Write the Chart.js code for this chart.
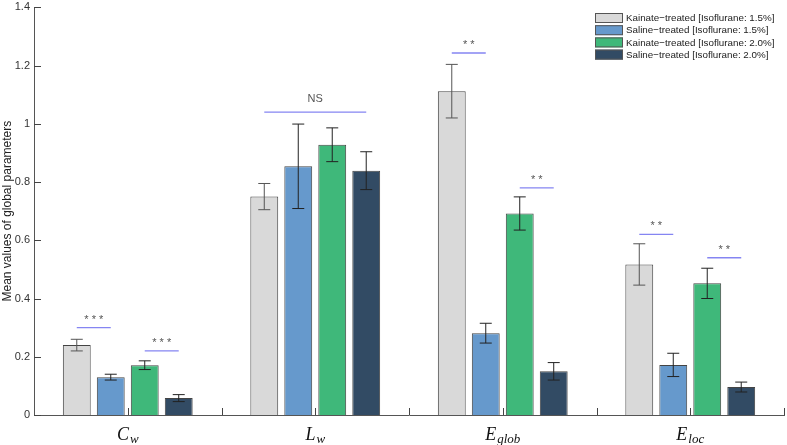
<!DOCTYPE html>
<html>
<head>
<meta charset="utf-8">
<script src="https://cdn.jsdelivr.net/npm/chart.js@4.4.1/dist/chart.umd.min.js"></script>
<style>
  html, body { margin: 0; padding: 0; background: #fff; }
  #wrap { width: 787px; height: 445px; }
</style>
</head>
<body>
<div id="wrap"><canvas id="myChart"></canvas></div>
<script>
// categories (main letter + subscript)
const catMain = ['C', 'L', 'E', 'E'];
const catSub = ['w', 'w', 'glob', 'loc'];
const categories = ['Cw', 'Lw', 'Eglob', 'Eloc'];

// series labels
const seriesLabels = [
  'Kainate\u2212treated [Isoflurane: 1.5%]',
  'Saline\u2212treated [Isoflurane: 1.5%]',
  'Kainate\u2212treated [Isoflurane: 2.0%]',
  'Saline\u2212treated [Isoflurane: 2.0%]'
];

// mean values
const kainate15 = [0.240, 0.750, 1.112, 0.517];
const saline15 = [0.130, 0.854, 0.281, 0.172];
const kainate20 = [0.171, 0.928, 0.692, 0.452];
const saline20 = [0.058, 0.839, 0.150, 0.096];

// error (half length)
const kainate15Err = [0.020, 0.045, 0.092, 0.071];
const saline15Err = [0.010, 0.145, 0.034, 0.040];
const kainate20Err = [0.015, 0.058, 0.057, 0.052];
const saline20Err = [0.012, 0.065, 0.030, 0.017];

// significance: category, bar from, bar to, height, label
const sigCat = [0, 0, 1, 2, 2, 3, 3];
const sigFrom = [0, 2, 0, 0, 2, 0, 2];
const sigTo = [1, 3, 3, 1, 3, 1, 3];
const sigY = [0.30, 0.22, 1.04, 1.243, 0.78, 0.62, 0.54];
const sigText = ['* * *', '* * *', 'NS', '* *', '* *', '* *', '* *'];

const yTicks = [0, 0.2, 0.4, 0.6, 0.8, 1, 1.2, 1.4];

const colors = ['#d9d9d9', '#6699cc', '#3fb87a', '#324b64'];
const seriesData = [kainate15, saline15, kainate20, saline20];
const seriesErr = [kainate15Err, saline15Err, kainate20Err, saline20Err];

const FONT = '"Liberation Sans", Arial, sans-serif';
const SERIF = '"Liberation Serif", "DejaVu Serif", serif';

const extras = {
  id: 'extras',
  afterDatasetsDraw(chart) {
    const ctx = chart.ctx;
    const x = chart.scales.x, y = chart.scales.y;
    const area = chart.chartArea;
    ctx.save();

    // error bars
    seriesErr.forEach((errs, di) => {
      const meta = chart.getDatasetMeta(di);
      meta.data.forEach((bar, i) => {
        const v = seriesData[di][i];
        const top = y.getPixelForValue(v + errs[i]);
        const bot = y.getPixelForValue(v - errs[i]);
        ctx.strokeStyle = di === 0 ? '#555' : '#222';
        ctx.lineWidth = 1;
        ctx.beginPath();
        ctx.moveTo(bar.x, top); ctx.lineTo(bar.x, bot);
        ctx.moveTo(bar.x - 6, top); ctx.lineTo(bar.x + 6, top);
        ctx.moveTo(bar.x - 6, bot); ctx.lineTo(bar.x + 6, bot);
        ctx.stroke();
      });
    });

    // significance lines
    sigCat.forEach((c, k) => {
      const x1 = chart.getDatasetMeta(sigFrom[k]).data[c].x;
      const x2 = chart.getDatasetMeta(sigTo[k]).data[c].x;
      const py = y.getPixelForValue(sigY[k]);
      ctx.strokeStyle = '#8585f2';
      ctx.lineWidth = 1.3;
      ctx.beginPath();
      ctx.moveTo(x1, py); ctx.lineTo(x2, py);
      ctx.stroke();
      ctx.fillStyle = '#555';
      ctx.font = '11px ' + FONT;
      ctx.textAlign = 'center';
      ctx.textBaseline = 'alphabetic';
      ctx.fillText(sigText[k], (x1 + x2) / 2, py - (sigText[k] === 'NS' ? 10 : 5));
    });

    // inward tick marks
    ctx.strokeStyle = '#444';
    ctx.lineWidth = 1;
    ctx.beginPath();
    yTicks.forEach(t => {
      const py = Math.round(y.getPixelForValue(t)) + 0.5;
      ctx.moveTo(area.left, py); ctx.lineTo(area.left + 7, py);
    });
    const n = categories.length;
    const step = (area.right - area.left) / n;
    for (let i = 1; i <= 2 * n; i++) {
      const px = Math.round(area.left + i * step / 2) + 0.5;
      ctx.moveTo(px, area.bottom); ctx.lineTo(px, area.bottom - 7);
    }
    ctx.stroke();

    // x category labels (italic with subscript)
    ctx.fillStyle = '#111';
    ctx.textBaseline = 'alphabetic';
    categories.forEach((c, i) => {
      const cx = x.getPixelForValue(i);
      ctx.font = 'italic 18px ' + SERIF;
      const w1 = ctx.measureText(catMain[i]).width;
      ctx.font = 'italic 13px ' + SERIF;
      const w2 = ctx.measureText(catSub[i]).width;
      const sx = cx - (w1 + w2 + 1) / 2;
      ctx.textAlign = 'left';
      ctx.font = 'italic 18px ' + SERIF;
      ctx.fillText(catMain[i], sx, 440);
      ctx.font = 'italic 13px ' + SERIF;
      ctx.fillText(catSub[i], sx + w1 + 1, 443);
    });

    // legend
    ctx.font = '9.8px ' + FONT;
    ctx.textAlign = 'left';
    ctx.textBaseline = 'middle';
    seriesLabels.forEach((lab, i) => {
      const cy = 18 + i * 12.2;
      ctx.fillStyle = colors[i];
      ctx.fillRect(595, cy - 5, 28, 10);
      ctx.strokeStyle = '#555';
      ctx.strokeRect(595.5, cy - 4.5, 27, 9);
      ctx.fillStyle = '#222';
      ctx.fillText(lab, 626, cy + 0.5);
    });

    ctx.restore();
  }
};

const ctx = document.getElementById('myChart').getContext('2d');
const myChart = new Chart(ctx, {
  type: 'bar',
  data: {
    labels: categories,
    datasets: seriesLabels.map((lab, i) => ({
      label: lab,
      data: seriesData[i],
      backgroundColor: colors[i],
      borderColor: '#444',
      borderWidth: 1,
      categoryPercentage: 0.725,
      barPercentage: 0.82
    }))
  },
  options: {
    responsive: true,
    maintainAspectRatio: false,
    animation: false,
    layout: { padding: { top: 6, right: 3, left: 0, bottom: 0 } },
    plugins: { legend: { display: false }, tooltip: { enabled: false } },
    scales: {
      x: {
        grid: { display: false },
        border: { display: true, color: '#555' },
        ticks: { display: false },
        afterFit: s => { s.height = 30; }
      },
      y: {
        min: 0,
        max: 1.4,
        afterBuildTicks: s => { s.ticks = yTicks.map(v => ({ value: v })); },
        grid: { display: false, drawTicks: false },
        border: { display: true, color: '#555' },
        ticks: {
          padding: 4,
          color: '#333',
          font: { family: FONT, size: 11, lineHeight: 0.6 },
          callback: v => String(Number(v.toFixed(1)))
        },
        title: {
          display: true,
          text: 'Mean values of global parameters',
          color: '#222',
          font: { family: FONT, size: 12 },
          padding: 0
        },
        afterFit: s => { s.width = 34; }
      }
    }
  },
  plugins: [extras]
});
</script>
</body>
</html>
